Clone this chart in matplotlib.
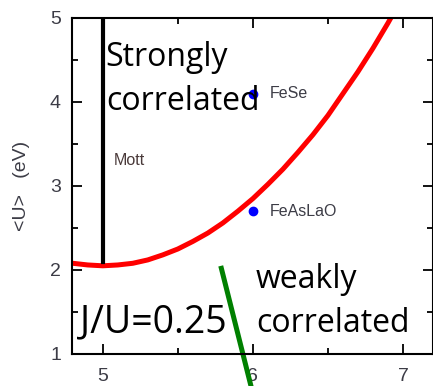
import matplotlib
matplotlib.use("Agg")
import matplotlib.pyplot as plt

# boundary curve
curve_x = [4.8, 4.9, 5.0, 5.1, 5.2, 5.3, 5.4, 5.5, 5.6, 5.7, 5.8, 5.9,
           6.0, 6.1, 6.2, 6.3, 6.4, 6.5, 6.6, 6.7, 6.8, 6.9, 6.95]
curve_y = [2.08, 2.06, 2.05, 2.06, 2.08, 2.12, 2.18, 2.25, 2.34, 2.44, 2.56, 2.70,
           2.85, 3.02, 3.20, 3.40, 3.61, 3.84, 4.10, 4.36, 4.64, 4.94, 5.1]

mott_x = [5.0, 5.0]
mott_y = [2.1, 5.0]

green_x = [5.79, 5.99]
green_y = [2.02, 0.6]

mat_names = ["FeSe", "FeAsLaO"]
mat_x = [6.0, 6.0]
mat_y = [4.1, 2.7]

xticks = [5, 6, 7]
yticks = [1, 2, 3, 4, 5]

W, H = 433, 386
fig = plt.figure(figsize=(W / 100, H / 100), dpi=100)
ax = fig.add_axes([72 / W, 32 / H, 361 / W, 336 / H])

ax.plot(curve_x, curve_y, color="red", lw=3.6, solid_capstyle="butt")
ax.plot(mott_x, mott_y, color="black", lw=3)
ax.plot(green_x, green_y, color="green", lw=3.6, clip_on=False)
ax.plot(mat_x, mat_y, "o", color="blue", ms=6, ls="none")

lab_col = "#3c3c46"
for name, x, y in zip(mat_names, mat_x, mat_y):
    ax.text(x + 0.11, y, name, fontsize=11.5, color=lab_col,
            family="Liberation Sans", va="center", ha="left")
ax.text(5.07, 3.3, "Mott", fontsize=11.5, color="#4a3a3a",
        family="Liberation Sans", va="center", ha="left")

big = dict(family="Open Sans", color="black", linespacing=1.45)
ax.text(5.02, 3.9, "Strongly\ncorrelated", va="baseline", ha="left", fontsize=23, **big)
ax.text(6.02, 1.26, "weakly\ncorrelated", va="baseline", ha="left", fontsize=23, **big)
ax.text(4.85, 1.26, "J/U=0.25", va="baseline", ha="left", fontsize=27, **big)

ax.set_xlim(4.795, 7.2)
ax.set_ylim(1, 5)
ax.set_xticks(xticks)
ax.set_yticks(yticks)
ax.set_xticks([5.5, 6.5], minor=True)
ax.set_yticks([1.5, 2.5, 3.5, 4.5], minor=True)
ax.tick_params(which="both", direction="in", top=True, right=True,
               labelsize=14, labelcolor=lab_col, width=1.3)
ax.tick_params(which="major", length=7)
ax.tick_params(which="minor", length=4)
ax.tick_params(axis="x", pad=10)
ax.tick_params(axis="y", pad=8)
for lbl in ax.get_xticklabels() + ax.get_yticklabels():
    lbl.set_family("Liberation Sans")
for sp in ax.spines.values():
    sp.set_linewidth(1.5)

ax.set_ylabel("<U>   (eV)", fontsize=14, color=lab_col, family="Liberation Sans")
ax.yaxis.set_label_coords(-0.115, 0.5)

fig.savefig("out.png", dpi=100)
